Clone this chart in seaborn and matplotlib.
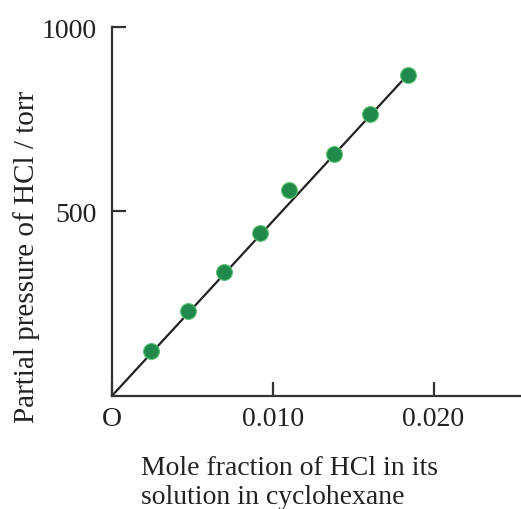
import numpy as np
import pandas as pd
import matplotlib
matplotlib.use("Agg")
import matplotlib.pyplot as plt
import seaborn as sns

# mole fraction of HCl vs partial pressure (torr)
mole_frac = [0.00243, 0.00475, 0.00697, 0.00923, 0.01104, 0.01378, 0.01602, 0.01838]
pressure = [121, 229, 337, 442, 557, 657, 764, 871]
# straight line through the origin
line_x = [0.0, 0.01838]
line_y = [0.0, 870]

df = pd.DataFrame({"x": mole_frac, "p": pressure})

sns.set_style("white")
plt.rcParams['font.family'] = ['Liberation Serif', 'DejaVu Serif']

fig = plt.figure(figsize=(5.21, 5.10), dpi=100)
ax = fig.add_axes([0.215, 0.222, 0.785, 0.723])

ax.plot(line_x, line_y, color="#222222", lw=1.6, zorder=2)
sns.scatterplot(data=df, x="x", y="p", ax=ax, s=130, color="#1f8a4c",
                edgecolor="#5cc46e", linewidth=0.8, zorder=3, legend=False)

ax.set_xlim(0, 0.02544)
ax.set_ylim(0, 1000)
sns.despine(ax=ax)
for s in ["left", "bottom"]:
    ax.spines[s].set_color("#333333")
    ax.spines[s].set_linewidth(1.6)

ax.set_xticks([0, 0.010, 0.020])
ax.set_xticklabels(["O", "0.010", "0.020"])
ax.set_yticks([500, 1000])
ax.set_yticklabels(["500", "1000"])
ax.tick_params(axis="both", direction="in", length=10, width=1.6,
               color="#333333", labelsize=20, labelcolor="#222222",
               bottom=True, left=True)
ax.tick_params(axis="x", pad=7)
ax.tick_params(axis="y", pad=11)
ax.get_xticklabels()[0].set_x(-0.0003)

ax.set_ylabel("Partial pressure of HCl / torr", fontsize=21, color="#222222")
ax.yaxis.set_label_coords(-0.175, 0.38)
ax.set_xlabel("Mole fraction of HCl in its\nsolution in cyclohexane", fontsize=20,
              color="#222222", ha="left", multialignment="left", linespacing=1.2)
ax.xaxis.set_label_coords(0.07, -0.16)

fig.savefig("out.png", dpi=100)
